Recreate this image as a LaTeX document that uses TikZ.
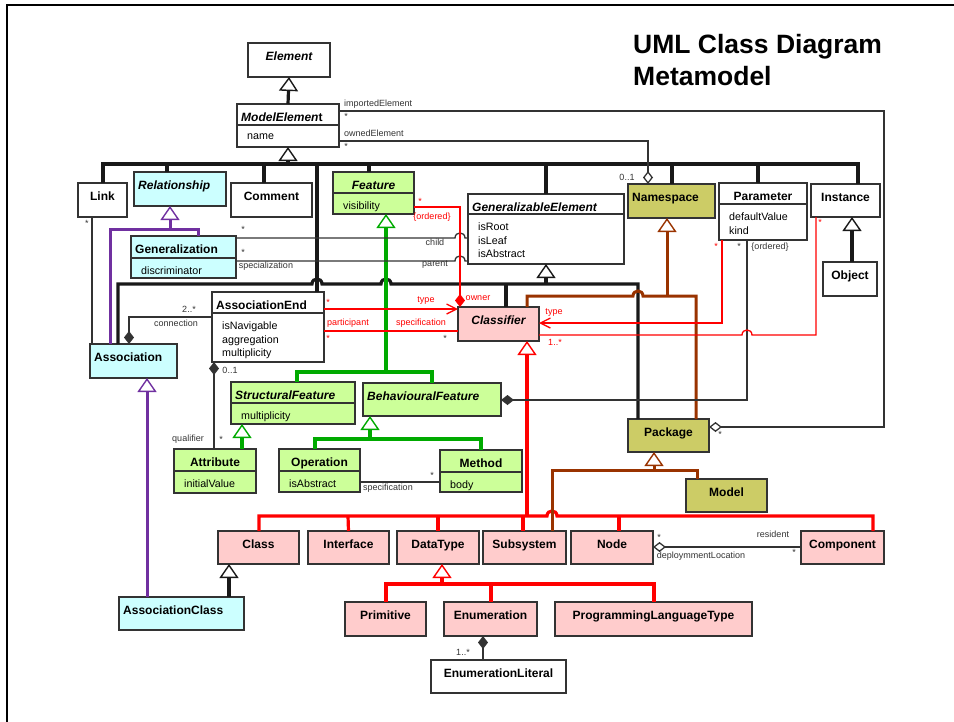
\documentclass[tikz,border=0pt]{standalone}
\usepackage{fontspec}
\setmainfont{Liberation Sans}
\usetikzlibrary{arrows.meta,calc}
\definecolor{umlred}{RGB}{255,0,0}
\definecolor{umlgreen}{RGB}{0,170,0}
\definecolor{umlpurple}{RGB}{112,48,160}
\definecolor{umlbrown}{RGB}{153,51,0}
\definecolor{fillcyan}{RGB}{204,255,255}
\definecolor{fillgreen}{RGB}{204,255,153}
\definecolor{fillpink}{RGB}{255,204,204}
\definecolor{fillolive}{RGB}{204,204,102}
\tikzset{
  umlbox/.style={draw=black!80, line width=1.5pt, inner sep=0pt, outer sep=0pt},
  ttl/.style={font=\fontsize{12}{14}\selectfont\bfseries, inner sep=0pt},
  attrtxt/.style={font=\fontsize{10.7}{13.5}\selectfont, align=left, inner sep=0pt, anchor=north west},
  lbl/.style={font=\fontsize{9}{10}\selectfont, text=black!80, inner sep=0pt},
  rlbl/.style={lbl, text=umlred},
  bus/.style={line width=3.2pt, black!90},
  pbus/.style={line width=3pt, umlpurple},
  gbus/.style={line width=3.2pt, umlgreen},
  bbus/.style={line width=3pt, umlbrown},
  rbus/.style={line width=3.2pt, umlred},
  assocl/.style={line width=1.3pt, black!80},
  rline/.style={line width=1.3pt, umlred},
  gtip/.style={-{Triangle[open,length=14pt,width=19pt,line width=1.4pt]}},
  comptip/.style={{Diamond[length=13pt,width=10pt]}-},
  aggtip/.style={{Diamond[open,length=13pt,width=10pt,line width=1.3pt]}-},
  navtip/.style={-{Straight Barb[length=10pt,width=10pt]}}
}
% 类框: 名称, x1, y1, x2, y2, 填充
\newcommand\umlcls[6]{%
  \pgfmathsetmacro\clsw{#4-#2}\pgfmathsetmacro\clsh{#5-#3}%
  \node[umlbox,fill=#6,minimum width=\clsw pt,minimum height=\clsh pt] (#1) at ({(#2+#4)/2},{(#3+#5)/2}) {};}
\newcommand\ttlc[2]{\node[ttl,anchor=base] (#1-t) at ([yshift=-17pt]#1.north) {#2};}
\newcommand\ttll[2]{\node[ttl,anchor=base west] (#1-t) at ([xshift=4pt,yshift=-17pt]#1.north west) {#2};}
\newcommand\umlattr[3]{%
  \draw[umlbox] (#1.west |- 0,#2) -- (#1.east |- 0,#2);
  \path (#1.west |- 0,#2) ++(10,9) node[attrtxt] (#1-a) {#3};}

\begin{document}
\begin{tikzpicture}[x=1pt,y=-1pt]
    \useasboundingbox (0,0) rectangle (954,721);
    % 绘制边框
    \draw[line width=2.5pt] (7,730) -- (7,5) -- (960,5);

    % 标题
    \node[font=\fontsize{26.5}{32}\selectfont\bfseries, anchor=base west, inner sep=0pt] (title1) at (633,53) {UML Class Diagram};
    \node[font=\fontsize{26.5}{32}\selectfont\bfseries, anchor=base west, inner sep=0pt] (title2) at (633,85) {Metamodel};

    % 绘制类
    \umlcls{elem}{248}{43}{330}{77}{white}
    \ttlc{elem}{\itshape Element}
    \umlcls{me}{237}{104}{339}{147}{white}
    \ttll{me}{{\itshape ModelElemen}t}
    \umlattr{me}{125}{name}
    \umlcls{link}{78}{183}{127}{217}{white}
    \ttlc{link}{Link}
    \umlcls{rel}{134}{172}{226}{206}{fillcyan}
    \ttll{rel}{\itshape Relationship}
    \umlcls{comment}{231}{183}{312}{217}{white}
    \ttlc{comment}{Comment}
    \umlcls{feat}{333}{172}{414}{214}{fillgreen}
    \ttlc{feat}{\itshape Feature}
    \umlattr{feat}{193}{visibility}
    \umlcls{ge}{468}{194}{624}{264}{white}
    \ttll{ge}{\itshape GeneralizableElement}
    \umlattr{ge}{214}{isRoot\\isLeaf\\isAbstract}
    \umlcls{ns}{628}{184}{715}{218}{fillolive}
    \ttll{ns}{Namespace}
    \umlcls{param}{719}{183}{807}{240}{white}
    \ttlc{param}{Parameter}
    \umlattr{param}{204}{defaultValue\\kind}
    \umlcls{inst}{811}{184}{880}{217}{white}
    \ttlc{inst}{Instance}
    \umlcls{obj}{823}{262}{877}{296}{white}
    \ttlc{obj}{Object}
    \umlcls{gen}{131}{236}{236}{278}{fillcyan}
    \ttll{gen}{Generalization}
    \umlattr{gen}{258}{discriminator}
    \umlcls{assoc}{90}{344}{177}{378}{fillcyan}
    \ttll{assoc}{Association}
    \umlcls{aend}{212}{292}{324}{362}{white}
    \ttll{aend}{AssociationEnd}
    \umlattr{aend}{313}{isNavigable\\aggregation\\multiplicity}
    \umlcls{clsf}{458}{307}{539}{341}{fillpink}
    \ttlc{clsf}{\itshape Classifier}
    \umlcls{sf}{231}{382}{355}{424}{fillgreen}
    \ttll{sf}{\itshape StructuralFeature}
    \umlattr{sf}{403}{multiplicity}
    \umlcls{bf}{363}{383}{501}{416}{fillgreen}
    \ttll{bf}{\itshape BehaviouralFeature}
    \umlcls{attrib}{174}{449}{256}{493}{fillgreen}
    \ttlc{attrib}{Attribute}
    \umlattr{attrib}{471}{initialValue}
    \umlcls{oper}{279}{449}{360}{492}{fillgreen}
    \ttlc{oper}{Operation}
    \umlattr{oper}{471}{isAbstract}
    \umlcls{meth}{440}{450}{522}{492}{fillgreen}
    \ttlc{meth}{Method}
    \umlattr{meth}{472}{body}
    \umlcls{pkg}{628}{419}{709}{452}{fillolive}
    \ttlc{pkg}{Package}
    \umlcls{model}{686}{479}{767}{512}{fillolive}
    \ttlc{model}{Model}
    \umlcls{class}{218}{531}{299}{564}{fillpink}
    \ttlc{class}{Class}
    \umlcls{iface}{308}{531}{389}{564}{fillpink}
    \ttlc{iface}{Interface}
    \umlcls{dtype}{397}{531}{479}{564}{fillpink}
    \ttlc{dtype}{DataType}
    \umlcls{subsys}{483}{531}{566}{564}{fillpink}
    \ttlc{subsys}{Subsystem}
    \umlcls{nde}{571}{531}{653}{564}{fillpink}
    \ttlc{nde}{Node}
    \umlcls{comp}{801}{531}{884}{564}{fillpink}
    \ttlc{comp}{Component}
    \umlcls{aclass}{119}{597}{244}{630}{fillcyan}
    \ttll{aclass}{AssociationClass}
    \umlcls{prim}{345}{602}{426}{636}{fillpink}
    \ttlc{prim}{Primitive}
    \umlcls{enum}{444}{602}{537}{636}{fillpink}
    \ttlc{enum}{Enumeration}
    \umlcls{plt}{555}{602}{752}{636}{fillpink}
    \ttlc{plt}{ProgrammingLanguageType}
    \umlcls{elit}{431}{660}{566}{693}{white}
    \ttlc{elit}{EnumerationLiteral}

    % 泛化: ModelElement
    \draw[bus,gtip] (me.north) -- (elem.south);
    \draw[bus,gtip] (me.south |- 0,164) -- (me.south);
    \draw[bus] (link.north -| 103,0) -- (103,164) -- (858,164) -- (inst.north -| 858,0);
    \draw[bus] (167,164) -- (rel.north -| 167,0);
    \draw[bus] (264,164) -- (comment.north -| 264,0);
    \draw[bus] (317,164) -- (aend.north -| 317,0);
    \draw[bus] (369,164) -- (feat.north -| 369,0);
    \draw[bus] (546,164) -- (ge.north);
    \draw[bus] (672,164) -- (ns.north -| 672,0);
    \draw[bus] (758,164) -- (param.north -| 758,0);

    % 泛化: GeneralizableElement
    \draw[bus,gtip] (ge.south |- 0,284) -- (ge.south);
    \draw[bus] (assoc.north -| 118,0) -- (118,284) -- (312,284) .. controls (312,277.3) and (322,277.3) .. (322,284)
        -- (381,284) .. controls (381,277.3) and (391,277.3) .. (391,284) -- (638,284) -- (pkg.north -| 638,0);
    \draw[bus] (506,284) -- (clsf.north -| 506,0);

    % 泛化: Relationship, Association
    \draw[pbus,gtip] (170,229) -- (rel.south -| 170,0);
    \draw[pbus] (assoc.north -| 110,0) -- (110,229) -- (198,229) -- (gen.north -| 198,0);
    \draw[pbus,gtip] (aclass.north -| 147,0) -- (assoc.south -| 147,0);

    % 泛化: Feature
    \draw[gbus,gtip] (386,372) -- (feat.south -| 386,0);
    \draw[gbus] (sf.north -| 297,0) -- (297,372) -- (432,372) -- (bf.north -| 432,0);
    \draw[gbus,gtip] (attrib.north -| 242,0) -- (sf.south -| 242,0);
    \draw[gbus,gtip] (370,439) -- (bf.south -| 370,0);
    \draw[gbus] (oper.north -| 315,0) -- (315,439) -- (481,439) -- (meth.north -| 481,0);

    % 泛化: Classifier, DataType
    \draw[rbus,gtip] (527,516) -- (clsf.south -| 527,0);
    \draw[rbus] (class.north -| 259,0) -- (259,516) -- (547,516) .. controls (547,509.3) and (557,509.3) .. (557,516)
        -- (873,516) -- (comp.north -| 873,0);
    \draw[rbus] (348,516) -- (iface.north);
    \draw[rbus] (438,516) -- (dtype.north);
    \draw[rbus] (523,516) -- (subsys.north -| 523,0);
    \draw[rbus] (619,516) -- (nde.north -| 619,0);
    \draw[rbus,gtip] (442,584) -- (dtype.south -| 442,0);
    \draw[rbus] (prim.north -| 386,0) -- (386,584) -- (654,584) -- (plt.north -| 654,0);
    \draw[rbus] (491,584) -- (enum.north -| 491,0);

    % 泛化: Namespace, Package
    \draw[bbus,gtip] (667,296) -- (ns.south -| 667,0);
    \draw[bbus] (clsf.north -| 527,0) -- (527,296) -- (633,296) .. controls (633,289.3) and (643,289.3) .. (643,296)
        -- (696,296) -- (pkg.north -| 696,0);
    \draw[bbus,gtip] (654,470) -- (pkg.south -| 654,0);
    \draw[bbus] (subsys.north -| 552,0) -- (552,470) -- (697,470) -- (model.north -| 697,0);

    % 泛化: Instance, Class
    \draw[bus,gtip] (obj.north -| 852,0) -- (inst.south -| 852,0);
    \draw[bus,gtip] (aclass.north -| 229,0) -- (class.south -| 229,0);

    % 关联
    \draw[assocl] (link.south -| 92,0) -- (assoc.north -| 92,0);
    \draw[assocl,comptip] (assoc.north -| 129,0) -- (129,317) -- (aend.west |- 0,317);
    \draw[assocl,comptip] (aend.south -| 214,0) -- (attrib.north -| 214,0);
    \draw[assocl] (gen.east |- 0,238) -- (455,238) .. controls (455,231.3) and (465,231.3) .. (465,238) -- (ge.west |- 0,238);
    \draw[assocl] (gen.east |- 0,261) -- (455,261) .. controls (455,254.3) and (465,254.3) .. (465,261) -- (ge.west |- 0,261);
    \draw[assocl,aggtip] (ns.north -| 648,0) -- (648,141) -- (me.east |- 0,141);
    \draw[assocl,aggtip] (pkg.east |- 0,427) -- (884,427) -- (884,111) -- (me.east |- 0,111);
    \draw[assocl,comptip] (bf.east |- 0,400) -- (747,400) -- (param.south -| 747,0);
    \draw[assocl,comptip] (enum.south -| 483,0) -- (elit.north -| 483,0);
    \draw[assocl] (oper.east |- 0,482) -- (meth.west |- 0,482);
    \draw[assocl,aggtip] (nde.east |- 0,547) -- (comp.west |- 0,547);

    % 关联: Classifier
    \draw[rline,comptip] (clsf.north -| 460,0) -- (460,207) -- (feat.east |- 0,207);
    \draw[rline,navtip] (aend.east |- 0,309) -- (clsf.west |- 0,309);
    \draw[rline] (aend.east |- 0,331) -- (clsf.west |- 0,331);
    \draw[rline,navtip] (param.south -| 722,0) -- (722,323) -- (clsf.east |- 0,323);
    \draw[rline] (inst.south -| 816,0) -- (816,335) -- (752,335) .. controls (752,328.3) and (742,328.3) .. (742,335) -- (clsf.east |- 0,335);

    % 标注
    \node[lbl,anchor=west] (l-imp) at (344,104) {importedElement};
    \node[lbl] (l-imp-m) at (346,116) {*};
    \node[lbl,anchor=west] (l-own) at (344,133) {ownedElement};
    \node[lbl] (l-own-m) at (346,146) {*};
    \node[lbl] (l-ns-m) at (627,177) {0..1};
    \node[lbl] (l-link-m) at (87,223) {*};
    \node[lbl] (l-child-m) at (243,229) {*};
    \node[lbl] (l-child) at (435,242) {child};
    \node[lbl] (l-par-m) at (243,252) {*};
    \node[lbl] (l-spec) at (266,266) {specialization};
    \node[lbl] (l-par) at (435,265) {parent};
    \node[rlbl] (l-feat-m) at (420,201) {*};
    \node[rlbl] (l-ord) at (432,217) {\{ordered\}};
    \node[rlbl] (l-owner) at (478,298) {owner};
    \node[lbl] (l-conn-m) at (189,309) {2..*};
    \node[lbl] (l-conn) at (176,323) {connection};
    \node[rlbl] (l-type-m) at (328,302) {*};
    \node[rlbl] (l-type) at (426,301) {type};
    \node[rlbl] (l-part) at (348,323) {participant};
    \node[rlbl] (l-spec2) at (421,323) {specification};
    \node[rlbl] (l-part-m) at (328,338) {*};
    \node[lbl] (l-spec2-m) at (445,338) {*};
    \node[rlbl] (l-ptype) at (554,313) {type};
    \node[rlbl] (l-inst-m2) at (555,342) {1..*};
    \node[rlbl] (l-param-m) at (716,246) {*};
    \node[lbl] (l-param-m2) at (739,246) {*};
    \node[lbl] (l-ord2) at (770,247) {\{ordered\}};
    \node[rlbl] (l-inst-m) at (820,222) {*};
    \node[lbl] (l-qual-m) at (230,370) {0..1};
    \node[lbl] (l-qual) at (188,439) {qualifier};
    \node[lbl] (l-qual-m2) at (221,439) {*};
    \node[lbl] (l-ospec) at (388,488) {specification};
    \node[lbl] (l-meth-m) at (432,475) {*};
    \node[lbl] (l-pkg-m) at (720,434) {*};
    \node[lbl] (l-nde-m) at (659,537) {*};
    \node[lbl] (l-dep) at (701,556) {deploymmentLocation};
    \node[lbl] (l-res) at (773,534) {resident};
    \node[lbl] (l-res-m) at (794,552) {*};
    \node[lbl] (l-lit-m) at (463,652) {1..*};
\end{tikzpicture}
\end{document}
